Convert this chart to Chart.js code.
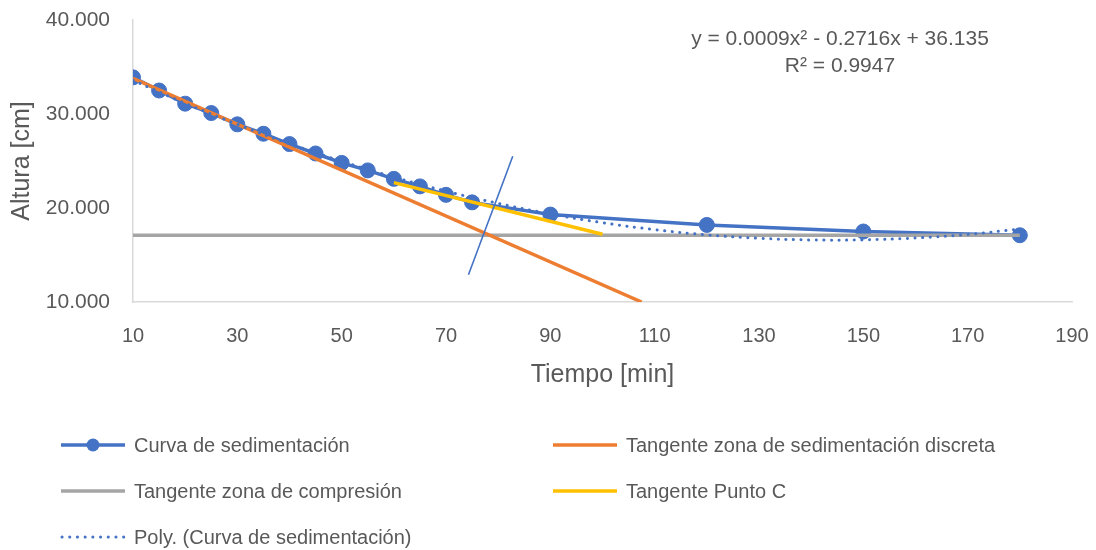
<!DOCTYPE html>
<html>
<head>
<meta charset="utf-8">
<script src="https://cdn.jsdelivr.net/npm/chart.js@4.4.1/dist/chart.umd.min.js"></script>
<style>
  html, body { margin: 0; padding: 0; background: #fff; }
  #wrap { position: relative; width: 1096px; height: 550px; overflow: hidden; font-family: "Liberation Sans", Arial, sans-serif; color: #595959; }
  #c { position: absolute; left: 0; top: 0; }
  .eq { position: absolute; left: 640px; width: 400px; text-align: center; font-size: 21px; line-height: 27px; }
  .leg { position: absolute; display: flex; align-items: center; font-size: 20px; white-space: nowrap; }
  .leg svg { margin-right: 8px; }
</style>
</head>
<body>
<div id="wrap">
  <canvas id="c" width="1096" height="550"></canvas>
  <div class="eq" style="top:24px">y = 0.0009x² - 0.2716x + 36.135</div>
  <div class="eq" style="top:51px">R² = 0.9947</div>
  <div id="legend"></div>
</div>
<script>
// ---- data ----
const timeMin = [10, 15, 20, 25, 30, 35, 40, 45, 50, 55, 60, 65, 70, 75, 90, 120, 150, 180];
const heightCm = [33.9, 32.5, 31.1, 30.1, 28.9, 27.9, 26.8, 25.8, 24.8, 24.0, 23.1, 22.3, 21.4, 20.6, 19.3, 18.2, 17.5, 17.1];

const tangDiscX = [10, 107.5];
const tangDiscY = [33.8, 10];

const tangCompX = [10, 180];
const tangCompY = [17.1, 17.1];

const tangCX = [60, 100];
const tangCY = [22.7, 17.2];

const bisectX = [74.3, 82.8];
const bisectY = [12.9, 25.5];

const trendX = [10, 20, 30, 40, 50, 60, 70, 80, 90, 100, 110, 120, 130, 140, 150, 160, 170, 180];
const trendY = [33.58, 31.14, 28.90, 26.84, 24.97, 23.29, 21.79, 20.49, 19.37, 18.44, 17.70, 17.14, 16.78, 16.60, 16.61, 16.81, 17.19, 17.77];

const xTicks = [10, 30, 50, 70, 90, 110, 130, 150, 170, 190];
const yTicks = [10, 20, 30, 40];

const labels = {
  curva: 'Curva de sedimentación',
  disc: 'Tangente zona de sedimentación discreta',
  comp: 'Tangente zona de compresión',
  puntoC: 'Tangente Punto C',
  poly: 'Poly. (Curva de sedimentación)'
};

const BLUE = '#4472C4', ORANGE = '#ED7D31', GRAY = '#A5A5A5', YELLOW = '#FFC000';
const pts = (xs, ys) => xs.map((x, i) => ({ x: x, y: ys[i] }));

const FONT = '"Liberation Sans", Arial, sans-serif';

new Chart(document.getElementById('c'), {
  type: 'scatter',
  data: {
    datasets: [
      { label: labels.poly, data: pts(trendX, trendY), showLine: true, borderColor: BLUE, borderWidth: 3,
        borderDash: [0.1, 7.5], borderCapStyle: 'round', pointRadius: 0, tension: 0.4, order: 0 },
      { label: 'bisect', data: pts(bisectX, bisectY), showLine: true, borderColor: BLUE, borderWidth: 1.6,
        pointRadius: 0, order: 1 },
      { label: labels.puntoC, data: pts(tangCX, tangCY), showLine: true, borderColor: YELLOW, borderWidth: 3.5,
        pointRadius: 0, order: 2 },
      { label: labels.comp, data: pts(tangCompX, tangCompY), showLine: true, borderColor: GRAY, borderWidth: 3.5,
        pointRadius: 0, order: 4 },
      { label: labels.disc, data: pts(tangDiscX, tangDiscY), showLine: true, borderColor: ORANGE, borderWidth: 3.5,
        pointRadius: 0, order: 3 },
      { label: labels.curva, data: pts(timeMin, heightCm), showLine: true, borderColor: BLUE, borderWidth: 3.5,
        pointRadius: 7.5, pointBackgroundColor: BLUE, pointBorderColor: BLUE, pointBorderWidth: 1, tension: 0, order: 5 }
    ]
  },
  options: {
    responsive: false,
    animation: false,
    events: [],
    layout: { padding: { left: 0, top: 20, right: 24, bottom: 160 } },
    plugins: { legend: { display: false }, tooltip: { enabled: false } },
    scales: {
      x: {
        type: 'linear', min: 10, max: 190,
        afterBuildTicks: (s) => { s.ticks = xTicks.map(v => ({ value: v })); },
        afterFit: (s) => { s.height = 88; s.paddingLeft = 0; s.paddingRight = 0; },
        grid: { display: false },
        border: { display: true, color: '#D9D9D9', width: 1.5 },
        ticks: { color: '#595959', font: { family: FONT, size: 20 }, padding: 14, maxRotation: 0 },
        title: { display: true, text: 'Tiempo [min]', color: '#595959', font: { family: FONT, size: 25 }, padding: { top: 4, bottom: 0 } }
      },
      y: {
        type: 'linear', min: 10, max: 40,
        afterBuildTicks: (s) => { s.ticks = yTicks.map(v => ({ value: v })); },
        afterFit: (s) => { s.width = 133; s.paddingTop = 0; s.paddingBottom = 0; },
        grid: { display: false },
        border: { display: true, color: '#D9D9D9', width: 1.5 },
        ticks: { color: '#595959', font: { family: FONT, size: 21 }, padding: 15, callback: (v) => Number(v).toFixed(3) },
        title: { display: true, text: 'Altura [cm]', color: '#595959', font: { family: FONT, size: 25 }, padding: { top: 7, bottom: 0 } }
      }
    }
  }
});

// ---- HTML legend (two columns, as in the reference) ----
const legendItems = [
  { text: labels.curva, color: BLUE, kind: 'marker', left: 60, top: 445 },
  { text: labels.disc, color: ORANGE, kind: 'line', left: 552, top: 445 },
  { text: labels.comp, color: GRAY, kind: 'line', left: 60, top: 491 },
  { text: labels.puntoC, color: YELLOW, kind: 'line', left: 552, top: 491 },
  { text: labels.poly, color: BLUE, kind: 'dots', left: 60, top: 537 }
];
const legend = document.getElementById('legend');
legendItems.forEach(it => {
  const d = document.createElement('div');
  d.className = 'leg';
  d.style.left = it.left + 'px';
  d.style.top = (it.top - 14) + 'px';
  d.style.height = '28px';
  let svg = '<svg width="66" height="16" viewBox="0 0 66 16">';
  if (it.kind === 'dots') {
    svg += '<line x1="2" y1="8" x2="64" y2="8" stroke="' + it.color + '" stroke-width="3" stroke-linecap="round" stroke-dasharray="0.1 7.6"/>';
  } else {
    svg += '<line x1="1" y1="8" x2="65" y2="8" stroke="' + it.color + '" stroke-width="3.5"/>';
    if (it.kind === 'marker') svg += '<circle cx="33" cy="8" r="6.5" fill="' + it.color + '"/>';
  }
  svg += '</svg>';
  d.innerHTML = svg + '<span>' + it.text + '</span>';
  legend.appendChild(d);
});
</script>
</body>
</html>
